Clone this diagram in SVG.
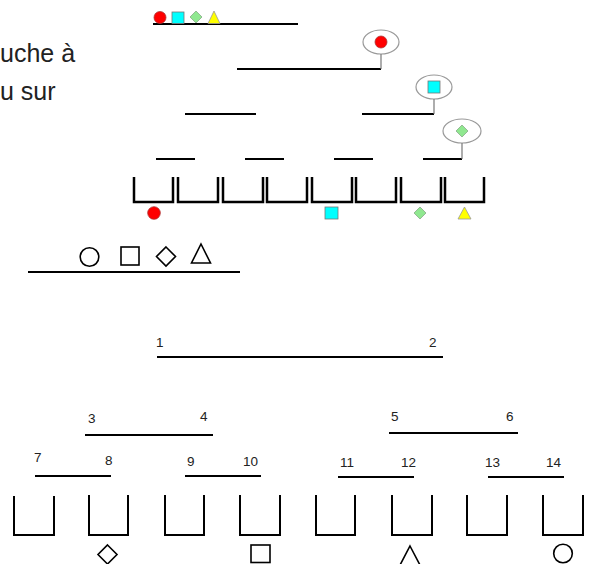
<svg xmlns="http://www.w3.org/2000/svg" width="600" height="564" viewBox="0 0 600 564">
<style>
.bar{stroke:#000;stroke-width:2.2;fill:none;stroke-linecap:butt}
.bar2{stroke:#000;stroke-width:2;fill:none}
.cup{stroke:#000;stroke-width:2;fill:none;stroke-linejoin:miter}
.cupt{stroke:#000;stroke-width:2.5;fill:none;stroke-linejoin:miter}
.stem{stroke:#777;stroke-width:1.2;fill:none}
.bub{fill:#fff;stroke:#999;stroke-width:1.2}
.red{fill:#ff0000;stroke:#a33;stroke-width:0.8}
.cyan{fill:#00ffff;stroke:#777;stroke-width:0.8}
.green{fill:#90e890;stroke:#8a8;stroke-width:0.8}
.yellow{fill:#ffff00;stroke:#999;stroke-width:0.8}
.outl{fill:none;stroke:#000;stroke-width:1.6}
.txt{font-family:"Liberation Sans",Arial,sans-serif;font-size:25px;fill:#222}
.num{font-family:"Liberation Sans",Arial,sans-serif;font-size:13.5px;fill:#222}
</style>
<rect width="600" height="564" fill="#fff"/>

<g id="side-text">
<text class="txt" x="0" y="62">uche à</text>
<text class="txt" x="0" y="100">u sur</text>
</g>

<!-- Top tree -->
<g id="root-node">
<line class="bar" x1="153" y1="24" x2="298" y2="24"/>
<circle class="red" cx="160" cy="17.5" r="6"/>
<rect class="cyan" x="172" y="12" width="12" height="11.5"/>
<polygon class="green" points="196,11 202,17 196,23 190,17"/>
<polygon class="yellow" points="214,11 220,23.5 208,23.5"/>
</g>
<g id="level2-node">
<line class="bar" x1="237" y1="69" x2="381" y2="69"/>
<ellipse class="bub" cx="381" cy="42" rx="18" ry="12"/>
<circle class="red" cx="381" cy="42" r="6"/>
</g>
<g id="level3-left">
<line class="bar" x1="185" y1="114" x2="256" y2="114"/>
</g>
<g id="level3-right">
<line class="bar" x1="362" y1="114" x2="434" y2="114"/>
<ellipse class="bub" cx="434" cy="87" rx="18" ry="12"/>
<rect class="cyan" x="428" y="81" width="12" height="12"/>
</g>
<g id="level4-nodes">
<line class="bar" x1="156" y1="159" x2="195" y2="159"/>
<line class="bar" x1="245" y1="159" x2="284" y2="159"/>
<line class="bar" x1="334" y1="159" x2="373" y2="159"/>
<line class="bar" x1="423" y1="159" x2="462" y2="159"/>
<ellipse class="bub" cx="462" cy="131" rx="19" ry="12"/>
<polygon class="green" points="462,125 468,131 462,137 456,131"/>
</g>
<g id="top-leaves">
<path class="cupt" d="M134,177V202H173V177"/>
<path class="cupt" d="M178,177V202H218V177"/>
<path class="cupt" d="M223,177V202H263V177"/>
<path class="cupt" d="M267,177V202H307V177"/>
<path class="cupt" d="M312,177V202H352V177"/>
<path class="cupt" d="M356,177V202H396V177"/>
<path class="cupt" d="M401,177V202H441V177"/>
<path class="cupt" d="M445,177V202H484V177"/>
<circle class="red" cx="154" cy="213" r="6.3"/>
<rect class="cyan" x="325" y="207" width="13" height="12"/>
<polygon class="green" points="420,207 426,213 420,219 414,213"/>
<polygon class="yellow" points="464.5,207 471,219 458,219"/>
</g>
<g id="connectors">
<line class="stem" x1="381" y1="54" x2="381" y2="69"/>
<line class="stem" x1="434" y1="99" x2="434" y2="114"/>
<line class="stem" x1="462" y1="143" x2="462" y2="159"/>
</g>

<!-- Legend line -->
<g id="shape-legend">
<line class="bar2" x1="28" y1="272" x2="240" y2="272"/>
<circle class="outl" cx="89.5" cy="257" r="9.3"/>
<rect class="outl" x="121" y="247" width="18" height="18"/>
<polygon class="outl" points="166,247 175.5,256.5 166,266 156.5,256.5"/>
<polygon class="outl" points="201,244 210.5,263 191.5,263"/>
</g>

<!-- Numbered tree -->
<g id="node-1-2">
<line class="bar2" x1="157" y1="357" x2="443" y2="357"/>
<text class="num" x="156" y="347">1</text>
<text class="num" x="429" y="347">2</text>
</g>
<g id="node-3-4">
<line class="bar2" x1="85" y1="435" x2="213" y2="435"/>
<text class="num" x="88" y="423">3</text>
<text class="num" x="200" y="421">4</text>
</g>
<g id="node-5-6">
<line class="bar2" x1="389" y1="433" x2="518" y2="433"/>
<text class="num" x="391" y="421">5</text>
<text class="num" x="506" y="421">6</text>
</g>
<g id="node-7-8">
<line class="bar2" x1="35" y1="476" x2="111" y2="476"/>
<text class="num" x="34" y="462">7</text>
<text class="num" x="105" y="465">8</text>
</g>
<g id="node-9-10">
<line class="bar2" x1="185" y1="476" x2="261" y2="476"/>
<text class="num" x="187" y="466">9</text>
<text class="num" x="243" y="466">10</text>
</g>
<g id="node-11-12">
<line class="bar2" x1="338" y1="477" x2="414" y2="477"/>
<text class="num" x="340" y="467">11</text>
<text class="num" x="401" y="467">12</text>
</g>
<g id="node-13-14">
<line class="bar2" x1="488" y1="477" x2="564" y2="477"/>
<text class="num" x="485" y="467">13</text>
<text class="num" x="546" y="467">14</text>
</g>
<g id="bottom-leaves">
<path class="cup" d="M14,496V535H54V496"/>
<path class="cup" d="M89,495V535H128V495"/>
<path class="cup" d="M165,495V535H204V495"/>
<path class="cup" d="M240,495V535H280V495"/>
<path class="cup" d="M316,495V535H355V495"/>
<path class="cup" d="M392,495V535H432V495"/>
<path class="cup" d="M467,495V535H507V495"/>
<path class="cup" d="M543,495V535H583V495"/>
<polygon class="outl" points="107.5,545 117,554.5 107.5,564 98,554.5"/>
<rect class="outl" x="251" y="545" width="19" height="17.5"/>
<polygon class="outl" points="410,546 421,567 399,567"/>
<circle class="outl" cx="563" cy="553.5" r="9.3"/>
</g>
</svg>
